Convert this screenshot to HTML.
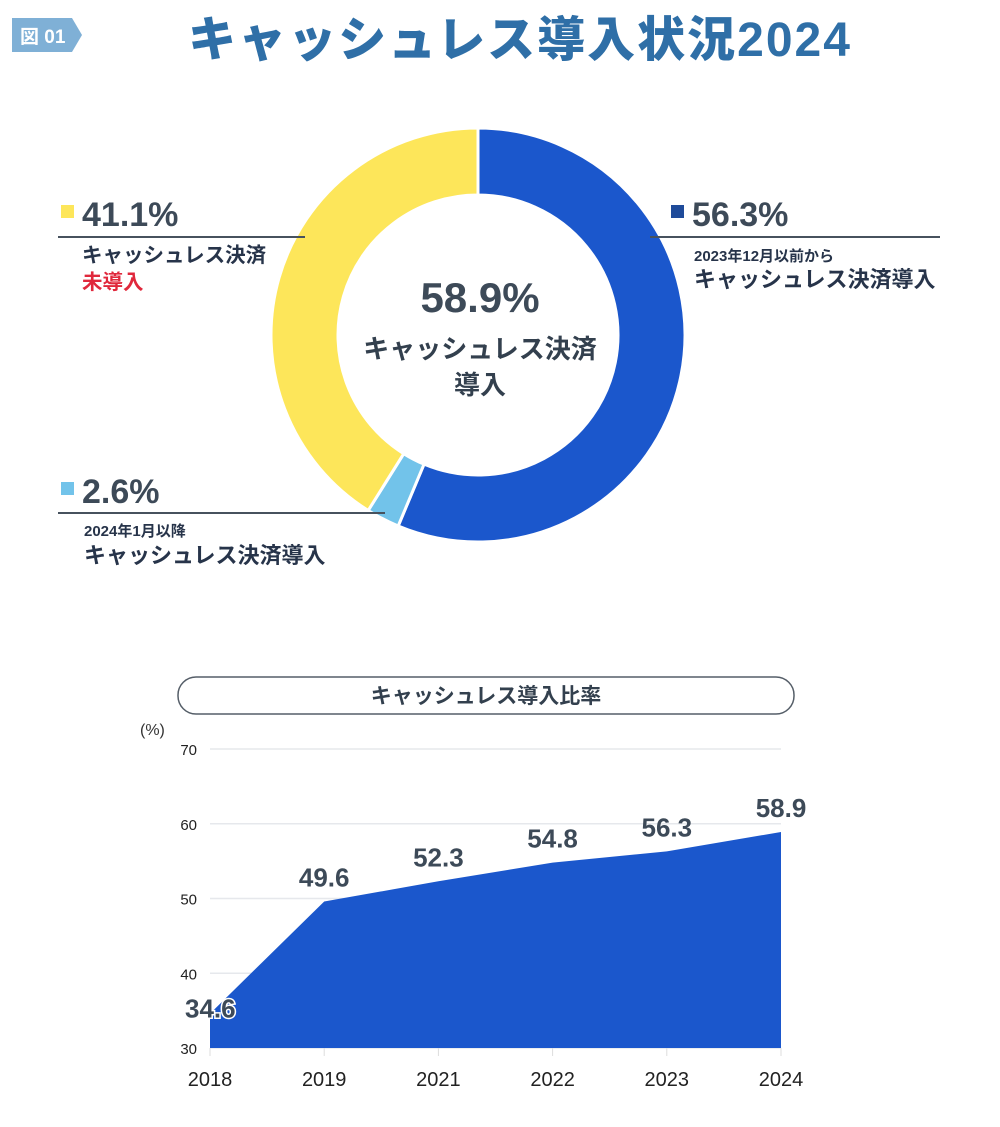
<!DOCTYPE html>
<html><head><meta charset="utf-8"><style>
body{margin:0;background:#fff;width:1000px;height:1122px;overflow:hidden;font-family:"Liberation Sans","Noto Sans CJK JP",sans-serif;}
svg text{font-family:"Liberation Sans","Noto Sans CJK JP",sans-serif;}
</style></head><body>
<svg width="1000" height="1122" viewBox="0 0 1000 1122">
<g>
<polygon points="12,18 72,18 82,35 72,52 12,52" fill="#7fb0d6"/>
<text x="20" y="43" font-size="19" font-weight="bold" fill="#fff">図 01</text>
</g>
<text x="520" y="56" text-anchor="middle" font-size="48" font-weight="900" letter-spacing="2" fill="#2f6fa7">キャッシュレス導入状況2024</text>

<g id="donut"></g>
<text x="480" y="312" text-anchor="middle" font-size="42" font-weight="bold" fill="#3d4a58">58.9%</text>
<text x="480" y="358" text-anchor="middle" font-size="26" font-weight="bold" fill="#33404e">キャッシュレス決済</text>
<text x="480" y="394" text-anchor="middle" font-size="26" font-weight="bold" fill="#33404e">導入</text>

<g>
<rect x="61" y="205" width="13" height="13" fill="#fde65a"/>
<text x="82" y="226" font-size="34" font-weight="bold" fill="#3d4a58">41.1%</text>
<line x1="58" y1="237" x2="305" y2="237" stroke="#47525e" stroke-width="2"/>
<text x="82" y="262" font-size="20.5" font-weight="bold" fill="#27344a">キャッシュレス決済</text>
<text x="82" y="289" font-size="20.5" font-weight="bold" fill="#e0283c">未導入</text>
</g>
<g>
<rect x="671" y="205" width="13" height="13" fill="#1f4b9a"/>
<text x="692" y="226" font-size="34" font-weight="bold" fill="#3d4a58">56.3%</text>
<line x1="650" y1="237" x2="940" y2="237" stroke="#47525e" stroke-width="2"/>
<text x="694" y="261" font-size="15" font-weight="bold" fill="#27344a">2023年12月以前から</text>
<text x="694" y="287" font-size="22" font-weight="bold" fill="#27344a">キャッシュレス決済導入</text>
</g>
<g>
<rect x="61" y="482" width="13" height="13" fill="#72c3ea"/>
<text x="82" y="503" font-size="34" font-weight="bold" fill="#3d4a58">2.6%</text>
<line x1="58" y1="513" x2="385" y2="513" stroke="#47525e" stroke-width="2"/>
<text x="84" y="536" font-size="15" font-weight="bold" fill="#27344a">2024年1月以降</text>
<text x="84" y="563" font-size="22" font-weight="bold" fill="#27344a">キャッシュレス決済導入</text>
</g>

<g>
<rect x="178" y="677" width="616" height="37" rx="18" fill="#fff" stroke="#555e68" stroke-width="1.5"/>
<text x="486" y="703" text-anchor="middle" font-size="21" font-weight="bold" fill="#33404e">キャッシュレス導入比率</text>
</g>
<text x="140" y="735" font-size="16" fill="#333">(%)</text>
<g id="area"></g>
</svg>
<script>
const donutLabels=['2023年12月以前から導入','2024年1月以降導入','未導入'];
const donutValues=[56.3,2.6,41.1];
const donutColors=['#1b57cc','#72c3ea','#fde65a'];
const years=['2018','2019','2021','2022','2023','2024'];
const rates=[34.6,49.6,52.3,54.8,56.3,58.9];
const yTicks=[30,40,50,60,70];
const NS='http://www.w3.org/2000/svg';
function mk(t,a,p){const e=document.createElementNS(NS,t);for(const k in a)e.setAttribute(k,a[k]);p.appendChild(e);return e;}
// donut
const dg=document.getElementById('donut');
const cx=478,cy=335,R=207,r=140;
const tot=donutValues.reduce((a,b)=>a+b,0);
let ang=0;
function pt(a,rad){return [cx+rad*Math.sin(a),cy-rad*Math.cos(a)];}
donutValues.forEach((v,i)=>{
 const a0=ang/tot*2*Math.PI,a1=(ang+v)/tot*2*Math.PI;ang+=v;
 const lg=(a1-a0)>Math.PI?1:0;
 const [x0,y0]=pt(a0,R),[x1,y1]=pt(a1,R),[x2,y2]=pt(a1,r),[x3,y3]=pt(a0,r);
 const p=mk('path',{d:`M${x0},${y0}A${R},${R} 0 ${lg} 1 ${x1},${y1}L${x2},${y2}A${r},${r} 0 ${lg} 0 ${x3},${y3}Z`,fill:donutColors[i],stroke:'#fff','stroke-width':3},dg);
 
 
});
// area
const ag=document.getElementById('area');
const x0=210,x1=781,yTop=749,yBot=1048,vMin=30,vMax=70;
const X=i=>x0+(x1-x0)*i/(years.length-1);
const Y=v=>yBot-(v-vMin)/(vMax-vMin)*(yBot-yTop);
yTicks.forEach(t=>{
 const l=mk('line',{x1:x0,x2:x1,y1:Y(t),y2:Y(t),stroke:'#e6e8ec','stroke-width':1.5},ag);
 
 
 const tx=mk('text',{x:x0-13,y:Y(t)+6,'font-size':15,'text-anchor':'end',fill:'#222'},ag);tx.textContent=t;
 
 
});
let d=`M${X(0)},${yBot}`;rates.forEach((v,i)=>d+=`L${X(i)},${Y(v)}`);d+=`L${X(rates.length-1)},${yBot}Z`;
const ar=mk('path',{d,fill:'#1b57cc'},ag);


years.forEach((y,i)=>{
 const t=mk('text',{x:X(i),y:1086,'font-size':20,'text-anchor':'middle',fill:'#222'},ag);t.textContent=y;
 
 
 const tick=mk('line',{x1:X(i),x2:X(i),y1:yBot,y2:yBot+8,stroke:'#ddd'},ag);
 
 
 const lb=mk('text',{x:i===0?X(i)-25:X(i),y:Y(rates[i])-(i===0?-4:15),'font-size':26,'font-weight':'bold','text-anchor':i===0?'start':'middle',fill:'#3d4a58',stroke:i===0?'#fff':'none','stroke-width':i===0?3:0,'paint-order':'stroke'},ag);
 lb.textContent=rates[i].toFixed(1);
 
 
});
</script>
</body></html>
